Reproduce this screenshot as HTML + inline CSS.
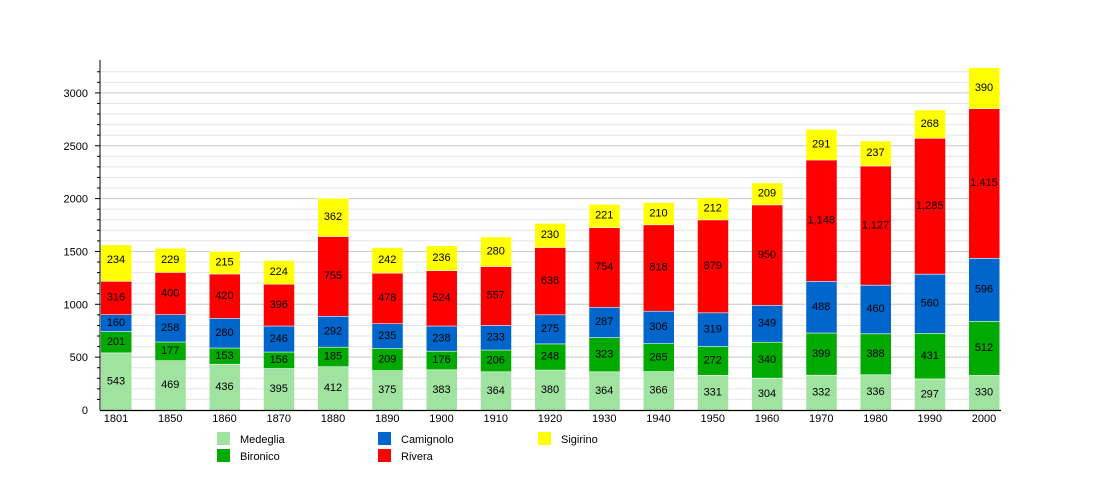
<!DOCTYPE html>
<html><head><meta charset="utf-8">
<style>
html,body{margin:0;padding:0;background:#fff;}
svg{display:block;font-family:"Liberation Sans",sans-serif;}
</style></head>
<body>
<svg id="c" width="1100" height="500" xmlns="http://www.w3.org/2000/svg"></svg>
<script>
const svg=document.getElementById('c');
const NS='http://www.w3.org/2000/svg';
function el(t,a,txt){const e=document.createElementNS(NS,t);for(const k in a)e.setAttribute(k,a[k]);if(txt!==undefined)e.textContent=txt;svg.appendChild(e);return e;}
const y0=410,k=0.1057;
const Y=v=>y0-v*k;
for(let v=100;v<=3200;v+=100){
  const major=v%500===0;
  el('line',{x1:100,x2:1000,y1:Y(v),y2:Y(v),stroke:major?'#c8c8c8':'#e4e4e4','stroke-width':1});
  el('line',{x1:major?95:97,x2:100,y1:Y(v),y2:Y(v),stroke:'#000','stroke-width':1});
  if(major) el('text',{x:88,y:Y(v)+4,'text-anchor':'end','font-size':11},String(v));
}
el('text',{x:88,y:Y(0)+4,'text-anchor':'end','font-size':11},'0');
const years=[1801,1850,1860,1870,1880,1890,1900,1910,1920,1930,1940,1950,1960,1970,1980,1990,2000];
const series=[
 ['Medeglia','#a0e3a0',[543,469,436,395,412,375,383,364,380,364,366,331,304,332,336,297,330]],
 ['Bironico','#00aa00',[201,177,153,156,185,209,176,206,248,323,265,272,340,399,388,431,512]],
 ['Camignolo','#0066cc',[160,258,280,246,292,235,238,233,275,287,306,319,349,488,460,560,596]],
 ['Rivera','#ff0000',[316,400,420,396,755,478,524,557,636,754,818,879,950,1148,1127,1285,1415]],
 ['Sigirino','#ffff00',[234,229,215,224,362,242,236,280,230,221,210,212,209,291,237,268,390]]
];
years.forEach((yr,i)=>{
  const x=101+54.25*i;
  let cum=0;
  series.forEach((s,si)=>{
    const v=s[2][i];
    let dv=v;
    if(i===0&&si===4) dv=346;
    const top=Y(cum+dv),bot=Y(cum);
    el('rect',{x:x,y:top,width:30.5,height:bot-top,fill:s[1]});
    el('line',{x1:x,x2:x+30.5,y1:top,y2:top,stroke:'#fff','stroke-width':1.2});
    const lab=v>=1000?(Math.floor(v/1000)+','+String(v%1000).padStart(3,'0')):String(v);
    let ty=(top+bot)/2+3;
    if(i===0&&si===4) ty=263;
    el('text',{x:x+15,y:ty,'text-anchor':'middle','font-size':11,fill:'#000'},lab);
    cum+=dv;
  });
  el('text',{x:x+15,y:422,'text-anchor':'middle','font-size':11},String(yr));
});
el('line',{x1:100,x2:100,y1:60,y2:410,stroke:'#000','stroke-width':1});
el('line',{x1:100,x2:1001,y1:410.5,y2:410.5,stroke:'#000','stroke-width':1.2});
const L=[[217,432,0],[217,449,1],[378,432,2],[378,449,3],[538,432,4]];
L.forEach(([lx,ly,si])=>{
  el('rect',{x:lx,y:ly,width:13,height:13,fill:series[si][1]});
  el('text',{x:lx+23,y:ly+11,'font-size':11},series[si][0]);
});
</script>
</body></html>
